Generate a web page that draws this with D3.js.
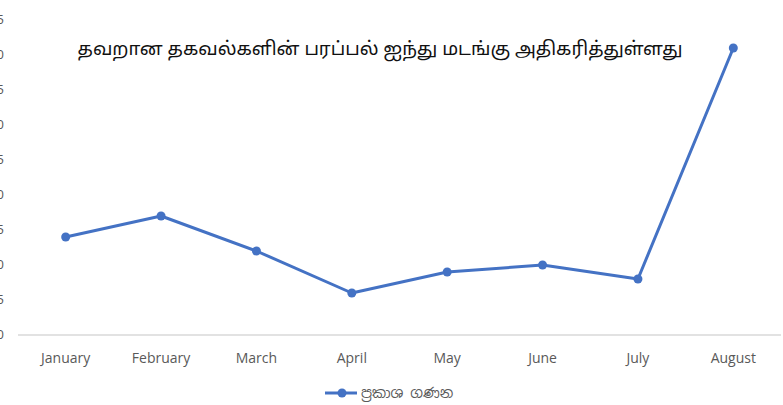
<!DOCTYPE html>
<html>
<head>
<meta charset="utf-8">
<script src="https://cdn.jsdelivr.net/npm/d3@7"></script>
<style>
  body { margin: 0; background: #fff; }
  svg { display: block; }
</style>
</head>
<body>
<div id="chart"></div>
<script>
const months = ["January", "February", "March", "April", "May", "June", "July", "August"];
const counts = [14, 17, 12, 6, 9, 10, 8, 41];
const yTicks = [0, 5, 10, 15, 20, 25, 30, 35, 40, 45];
const titleText = "தவறான தகவல்களின் பரப்பல் ஐந்து மடங்கு அதிகரித்துள்ளது";
const seriesName = "ප්‍රකාශ ගණන";

const width = 783, height = 405;
const margin = { top: 20, right: 2, bottom: 70, left: 18 };
const innerW = width - margin.left - margin.right;
const innerH = height - margin.top - margin.bottom;
const blue = "#4472C4";

const svg = d3.select("#chart").append("svg")
  .attr("width", width)
  .attr("height", height);

const g = svg.append("g")
  .attr("transform", `translate(${margin.left},${margin.top})`);

const x = d3.scalePoint()
  .domain(months)
  .range([0, innerW])
  .padding(0.5);

const y = d3.scaleLinear()
  .domain([0, 45])
  .range([innerH, 0]);

// y tick labels (the original is cropped so only their last digit edge shows)
g.append("g")
  .selectAll("text")
  .data(yTicks)
  .enter()
  .append("text")
  .attr("x", -14)
  .attr("y", d => y(d) + 4)
  .attr("text-anchor", "end")
  .attr("font-family", "Open Sans, sans-serif")
  .attr("font-size", 13)
  .attr("fill", "#595959")
  .text(d => d);

// baseline
g.append("line")
  .attr("x1", 0).attr("x2", innerW)
  .attr("y1", y(0)).attr("y2", y(0))
  .attr("stroke", "#d9d9d9")
  .attr("stroke-width", 1.5);

// x labels
g.append("g")
  .selectAll("text")
  .data(months)
  .enter()
  .append("text")
  .attr("x", d => x(d))
  .attr("y", innerH + 28)
  .attr("text-anchor", "middle")
  .attr("font-family", "Open Sans, sans-serif")
  .attr("font-size", 14)
  .attr("fill", "#595959")
  .text(d => d);

const line = d3.line()
  .x((d, i) => x(months[i]))
  .y(d => y(d));

g.append("path")
  .datum(counts)
  .attr("fill", "none")
  .attr("stroke", blue)
  .attr("stroke-width", 3)
  .attr("stroke-linejoin", "round")
  .attr("d", line);

g.selectAll(".pt")
  .data(counts)
  .enter()
  .append("circle")
  .attr("class", "pt")
  .attr("cx", (d, i) => x(months[i]))
  .attr("cy", d => y(d))
  .attr("r", 4.5)
  .attr("fill", blue);

// title
svg.append("text")
  .attr("x", 380)
  .attr("y", 55)
  .attr("text-anchor", "middle")
  .attr("font-family", "Noto Sans Tamil, Noto Sans, sans-serif")
  .attr("font-size", 18.6)
  .attr("fill", "#111")
  .text(titleText);

// legend
const legend = svg.append("g")
  .attr("transform", "translate(325,393)");

legend.append("line")
  .attr("x1", 0).attr("x2", 32)
  .attr("y1", 0).attr("y2", 0)
  .attr("stroke", blue)
  .attr("stroke-width", 3);

legend.append("circle")
  .attr("cx", 17).attr("cy", 0)
  .attr("r", 4.5)
  .attr("fill", blue);

legend.append("text")
  .attr("x", 36)
  .attr("y", 4.5)
  .attr("font-family", "Noto Sans Sinhala, Noto Sans, sans-serif")
  .attr("font-size", 14)
  .attr("fill", "#595959")
  .text(seriesName);
</script>
</body>
</html>
